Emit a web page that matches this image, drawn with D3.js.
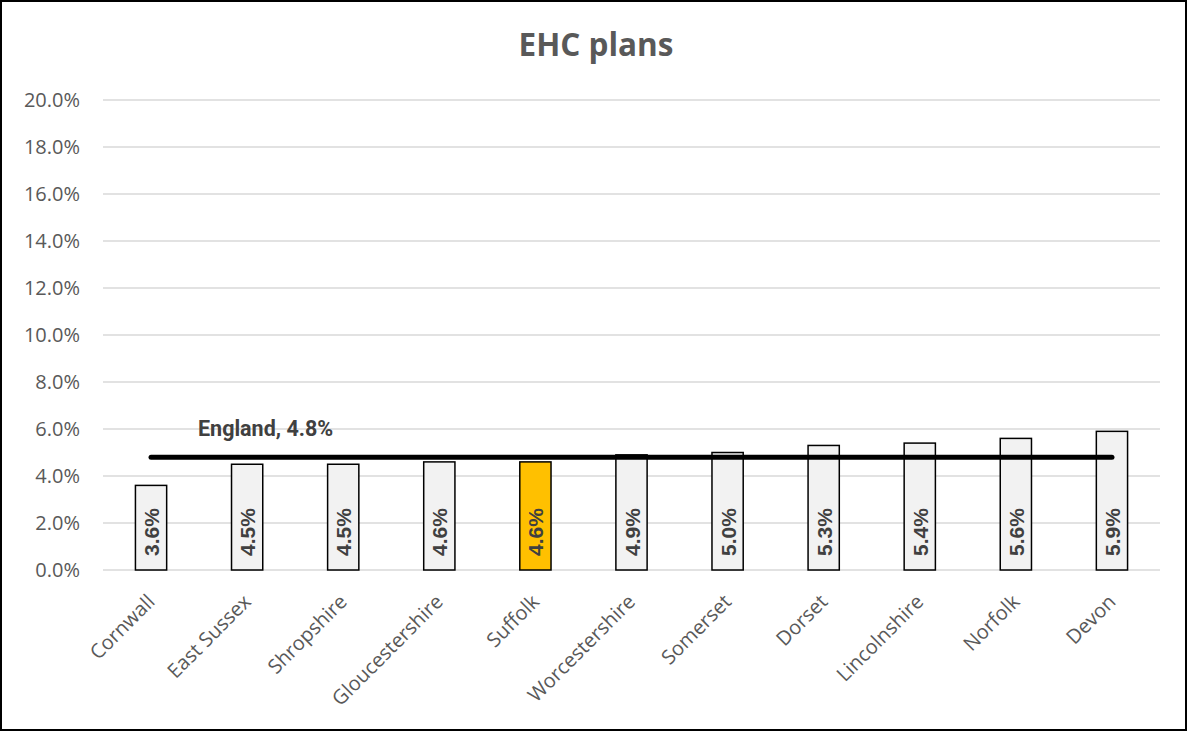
<!DOCTYPE html>
<html>
<head>
<meta charset="utf-8">
<script src="https://cdn.jsdelivr.net/npm/d3@7"></script>
<style>
  html, body { margin: 0; padding: 0; background: #fff; }
  svg { display: block; }
</style>
</head>
<body>
<svg id="chart" width="1188" height="732"></svg>
<script>
// Share of pupils with EHC plans, by local authority
const categories = ["Cornwall", "East Sussex", "Shropshire", "Gloucestershire", "Suffolk",
  "Worcestershire", "Somerset", "Dorset", "Lincolnshire", "Norfolk", "Devon"];
const values = [3.6, 4.5, 4.5, 4.6, 4.6, 4.9, 5.0, 5.3, 5.4, 5.6, 5.9];
const highlight = "Suffolk";
const englandValue = 4.8;
const englandLabel = "England, 4.8%";
const yTicks = [0, 2, 4, 6, 8, 10, 12, 14, 16, 18, 20];
const title = "EHC plans";

const W = 1188, H = 732;
const margin = { left: 103, right: 28, top: 100, bottom: 162 };
const svg = d3.select("#chart");
const textFont = "'Open Sans', 'Noto Sans', sans-serif";
const valueFont = "'Liberation Sans', Arial, sans-serif";
const noteFont = "Roboto, sans-serif";

// outer frame
svg.append("rect")
  .attr("x", 1).attr("y", 1).attr("width", W - 3).attr("height", H - 3)
  .attr("fill", "#fff").attr("stroke", "#000").attr("stroke-width", 2);

const x = d3.scaleBand().domain(categories)
  .range([margin.left, W - margin.right]).paddingInner(0.675).paddingOuter(0.3375);
const y = d3.scaleLinear().domain([0, 20]).range([H - margin.bottom, margin.top]);

// title
svg.append("text")
  .attr("x", 596).attr("y", 56)
  .attr("text-anchor", "middle")
  .attr("font-family", textFont).attr("font-weight", "bold")
  .attr("font-size", 31.5).attr("fill", "#595959")
  .text(title);

// gridlines
svg.append("g").selectAll("line").data(yTicks).join("line")
  .attr("x1", margin.left).attr("x2", W - margin.right)
  .attr("y1", d => y(d)).attr("y2", d => y(d))
  .attr("stroke", "#d9d9d9").attr("stroke-width", 1.5);

// y axis labels
const yAxis = d3.axisLeft(y).tickValues(yTicks).tickFormat(d => d.toFixed(1) + "%").tickSize(0).tickPadding(23);
svg.append("g").attr("transform", `translate(${margin.left},0)`).call(yAxis)
  .call(g => g.select(".domain").remove())
  .call(g => g.selectAll("text")
    .attr("font-family", textFont).attr("font-size", 20).attr("fill", "#595959"));

// bars
svg.append("g").selectAll("rect").data(categories).join("rect")
  .attr("x", d => x(d)).attr("width", x.bandwidth())
  .attr("y", (d, i) => y(values[i])).attr("height", (d, i) => y(0) - y(values[i]))
  .attr("fill", d => d === highlight ? "#ffc000" : "#f2f2f2")
  .attr("stroke", "#000").attr("stroke-width", 1.5);

// value labels, rotated inside bars
svg.append("g").selectAll("text").data(categories).join("text")
  .attr("transform", d => `translate(${x(d) + x.bandwidth() / 2 + 8},${y(0) - 14}) rotate(-90)`)
  .attr("text-anchor", "start")
  .attr("font-family", valueFont).attr("font-weight", "bold")
  .attr("font-size", 21).attr("fill", "#404040")
  .text((d, i) => values[i].toFixed(1) + "%");

// England average line
const first = categories[0], last = categories[categories.length - 1];
svg.append("line")
  .attr("x1", x(first) + x.bandwidth() / 2).attr("x2", x(last) + x.bandwidth() / 2)
  .attr("y1", y(englandValue)).attr("y2", y(englandValue))
  .attr("stroke", "#000").attr("stroke-width", 5).attr("stroke-linecap", "round");

svg.append("text")
  .attr("x", 198).attr("y", y(englandValue) - 21)
  .attr("font-family", noteFont).attr("font-weight", "bold")
  .attr("font-size", 21.5).attr("fill", "#404040")
  .text(englandLabel);

// category labels
svg.append("g").selectAll("text").data(categories).join("text")
  .attr("transform", d => `translate(${x(d) + x.bandwidth() / 2 + 5},${y(0) + 33}) rotate(-45)`)
  .attr("text-anchor", "end")
  .attr("font-family", textFont).attr("font-size", 20).attr("fill", "#595959")
  .text(d => d);
</script>
</body>
</html>
